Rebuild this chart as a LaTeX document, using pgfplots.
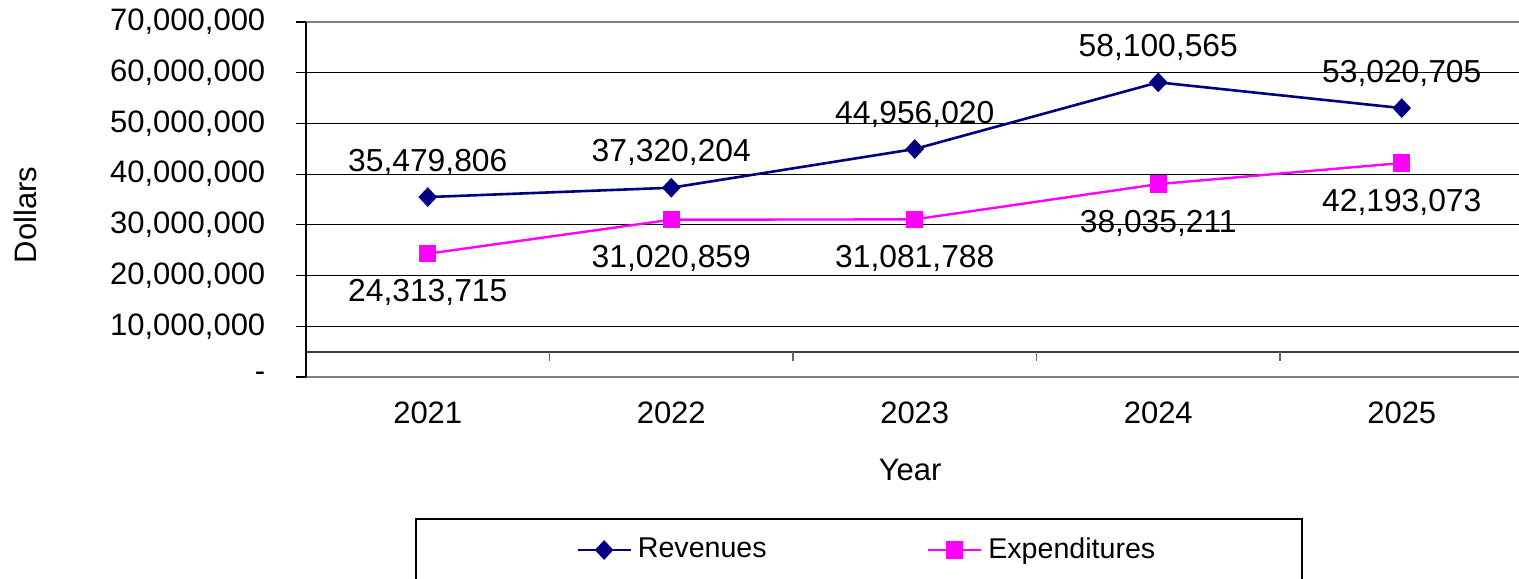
\documentclass[border=0pt]{standalone}
\usepackage{fontspec}
\setmainfont{Liberation Sans}
\usepackage{pgfplots}
\usepackage{pgfplotstable}
\pgfplotsset{compat=1.18}
\definecolor{rev}{RGB}{0,0,128}
\definecolor{expc}{RGB}{255,0,255}

\pgfplotstableread{
x y label
0 35479806 35,479,806
1 37320204 37,320,204
2 44956020 44,956,020
3 58100565 58,100,565
4 53020705 53,020,705
}\revtable
\pgfplotstableread{
x y label
0 24313715 24,313,715
1 31020859 31,020,859
2 31081788 31,081,788
3 38035211 38,035,211
4 42193073 42,193,073
}\exptable

\begin{document}
\fontsize{15.5pt}{18pt}\selectfont
\begin{tikzpicture}
\useasboundingbox (-153pt,-100.5pt) rectangle (606.5pt,188.5pt);
\clip (-153pt,-100.5pt) rectangle (606.5pt,188.5pt);
\begin{axis}[
  at={(0,0)}, anchor=south west,
  scale only axis, width=606.5pt, height=177.5pt,
  xmin=-0.5, xmax=4.4815, ymin=0, ymax=70000000,
  xtick={0,1,2,3,4}, xticklabels={2021,2022,2023,2024,2025},
  ytick={0,10000000,20000000,30000000,40000000,50000000,60000000,70000000},
  yticklabels={-,{10,000,000},{20,000,000},{30,000,000},{40,000,000},{50,000,000},{60,000,000},{70,000,000}},
  scaled y ticks=false,
  axis line style={draw=none},
  ymajorgrids, grid style={black, line width=0.6pt},
  tick align=outside, ytick pos=left, xtick pos=bottom,
  major tick length=5pt,
  tick style={black, line width=0.6pt},
  xtick style={draw=none},
  xticklabel style={anchor=center, yshift=-13pt},
  yticklabel style={anchor=east, xshift=-10pt},
  xlabel={Year},
  xlabel style={at={(axis description cs:0.498,0)}, anchor=center, yshift=-46.5pt},
  ylabel={Dollars},
  ylabel style={at={(axis description cs:-0.2317,0.456)}, anchor=center},
  clip=false,
  legend columns=2,
  legend image code/.code={\draw[mark repeat=2,mark phase=2] plot coordinates {(0pt,0pt)(13.25pt,0pt)(26.5pt,0pt)};},
  legend style={draw=none, fill=none, at={(axis description cs:0.225,0)}, anchor=west, xshift=-1.5pt, yshift=-86.5pt, inner sep=0pt, /tikz/column sep=3pt, nodes={inner sep=0pt}, font=\fontsize{14.3pt}{17pt}\selectfont},
]
\draw[black!75, line width=0.8pt] (axis cs:-0.5,4930000) -- (axis cs:4.4815,4930000);
\draw[black!60, line width=0.8pt] (axis cs:0.5,4930000) -- (axis cs:0.5,3200000);
\draw[black!60, line width=0.8pt] (axis cs:1.5,4930000) -- (axis cs:1.5,3200000);
\draw[black!60, line width=0.8pt] (axis cs:2.5,4930000) -- (axis cs:2.5,3200000);
\draw[black!60, line width=0.8pt] (axis cs:3.5,4930000) -- (axis cs:3.5,3200000);
\draw[gray, line width=1.3pt] (axis cs:-0.5,70000000) -- (axis cs:4.4815,70000000);
\draw[gray, line width=1.3pt] (axis cs:-0.5,0) -- (axis cs:4.4815,0);
\draw[black, line width=1.2pt] (axis cs:-0.5,0) -- (axis cs:-0.5,70000000);

\addplot[rev, line width=1.3pt, mark=diamond*, mark size=4pt, mark options={xscale=1.25},
  nodes near coords, point meta=explicit symbolic,
  every node near coord/.append style={anchor=center, yshift=17.5pt, text=black, font=\fontsize{15.9pt}{18pt}\selectfont}]
  table[x=x, y=y, meta=label] {\revtable};
\addlegendentry{\makebox[141.5pt][l]{Revenues}}
\addplot[expc, line width=1.2pt, mark=square*, mark size=3.75pt,
  nodes near coords, point meta=explicit symbolic,
  every node near coord/.append style={anchor=center, yshift=-19.5pt, text=black, font=\fontsize{15.9pt}{18pt}\selectfont}]
  table[x=x, y=y, meta=label] {\exptable};
\addlegendentry{Expenditures}

\draw[black, line width=0.7pt] (axis description cs:0.0907,-0.4) rectangle (axis description cs:0.8211,-0.58);
\end{axis}
\end{tikzpicture}
\end{document}
